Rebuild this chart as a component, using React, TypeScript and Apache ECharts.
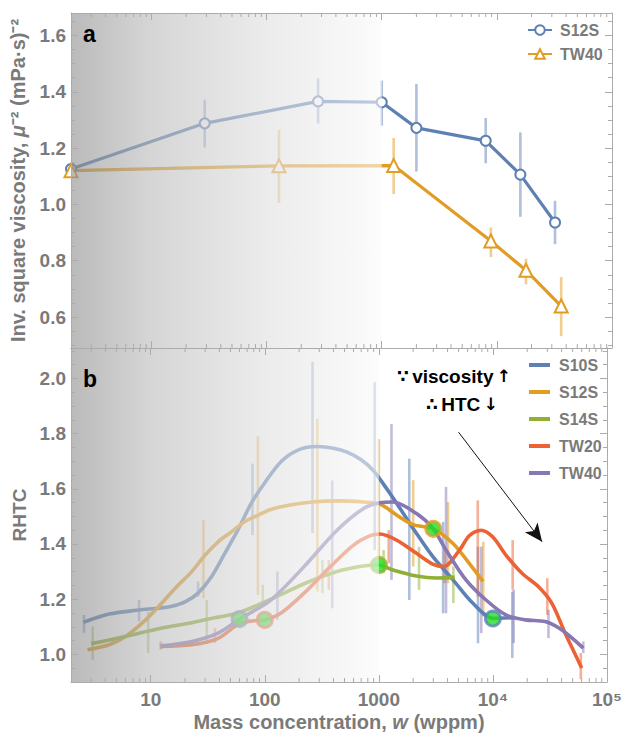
import React, { useEffect, useRef } from "react";
import * as echarts from "echarts";

// ---------- data ----------
const X_MIN = 2;
const X_MAX = 1e5;
const SHADE_RANGE = [2, 1000];

// panel a
const aS12S_x = [2, 29, 280, 1000, 2000, 8000, 16000, 32000];
const aS12S_y = [1.126, 1.288, 1.366, 1.363, 1.272, 1.226, 1.106, 0.936];
const aS12S_lo = [null, 1.202, 1.287, 1.28, 1.117, 1.146, 0.956, 0.859];
const aS12S_hi = [null, 1.372, 1.448, 1.44, 1.428, 1.307, 1.256, 1.013];

const aTW40_x = [2, 128, 1270, 8870, 17900, 36200];
const aTW40_y = [1.12, 1.137, 1.138, 0.87, 0.766, 0.639];
const aTW40_lo = [null, 1.005, 1.037, 0.813, 0.716, 0.532];
const aTW40_hi = [null, 1.264, 1.236, 0.918, 0.807, 0.742];

// panel b fitted curves [w, RHTC]
const bS10S = [[2.57, 1.116], [4.3, 1.146], [7.9, 1.161], [11.7, 1.167], [15.3, 1.174], [20, 1.19], [26, 1.222], [34.2, 1.282], [44.6, 1.366], [58, 1.45], [76, 1.547], [100, 1.622], [140, 1.7], [200, 1.742], [289, 1.753], [400, 1.747], [527, 1.733], [700, 1.705], [900, 1.665], [1150, 1.605], [1435, 1.547], [2140, 1.438], [3000, 1.352], [4470, 1.27], [6650, 1.186], [10000, 1.131], [15300, 1.133]];
const bS12S = [[2.79, 1.017], [4.32, 1.035], [6.02, 1.065], [8.4, 1.113], [11.7, 1.173], [16.4, 1.24], [22.9, 1.3], [30, 1.36], [39, 1.408], [51, 1.444], [66, 1.48], [87, 1.504], [113, 1.525], [170, 1.542], [260, 1.552], [430, 1.556], [730, 1.552], [1020, 1.545], [1430, 1.505], [2000, 1.47], [3000, 1.455], [4470, 1.402], [6200, 1.33], [8200, 1.264]];
const bS14S = [[3.0, 1.039], [6.0, 1.065], [11.7, 1.093], [22.9, 1.115], [39, 1.135], [60, 1.152], [113, 1.2], [221, 1.256], [430, 1.3], [730, 1.32], [1000, 1.324], [1330, 1.306], [2140, 1.284], [3190, 1.277], [4620, 1.279]];
const bTW20 = [[12.2, 1.029], [23, 1.035], [39, 1.058], [60, 1.112], [80, 1.122], [100, 1.125], [138, 1.149], [221, 1.222], [376, 1.318], [600, 1.396], [840, 1.43], [1020, 1.436], [1430, 1.414], [2140, 1.366], [3000, 1.326], [3700, 1.318], [5100, 1.378], [6200, 1.43], [7860, 1.45], [9940, 1.426], [13000, 1.36], [18000, 1.294], [25100, 1.245], [32800, 1.186], [43000, 1.077], [52000, 1.005], [60000, 0.951]];
const bTW40 = [[12.6, 1.031], [23, 1.047], [39, 1.077], [60, 1.128], [113, 1.197], [221, 1.318], [430, 1.45], [730, 1.528], [1020, 1.549], [1330, 1.552], [2140, 1.51], [3000, 1.455], [3880, 1.378], [5800, 1.27], [8700, 1.197], [13000, 1.143], [19300, 1.125], [28700, 1.119], [40000, 1.089], [62000, 1.023]];

// panel b error bars [w, low, high]
const eS10S = [[2.6, 1.078, 1.143], [7.9, 1.119, 1.197], [26, 1.209, 1.264], [78, 1.432, 1.691], [262, 1.44, 2.06], [920, 1.378, 1.986], [1850, 1.197, 1.709], [3660, 1.149, 1.48], [7400, 1.04, 1.39], [14800, 0.987, 1.227]];
const eS12S = [[29, 1.204, 1.486], [87, 1.215, 1.79], [289, 1.228, 1.853], [1000, 1.318, 1.78], [2000, 1.318, 1.631], [4040, 1.258, 1.552], [8230, 1.137, 1.408]];
const eS14S = [[3.1, 0.98, 1.101], [9.5, 1.005, 1.155], [31, 1.047, 1.197], [96, 1.173, 1.252], [320, 1.222, 1.342], [1100, 1.294, 1.378], [2250, 1.234, 1.39], [4500, 1.186, 1.318]];
const eTW20 = [[12.2, 1.017, 1.047], [36.6, 1.041, 1.095], [364, 1.234, 1.342], [1220, 1.33, 1.45], [3770, 1.258, 1.378], [7370, 1.209, 1.558], [14900, 1.234, 1.414], [30000, 1.143, 1.276], [59000, 0.91, 1.005]];
const eTW40 = [[12.4, 1.02, 1.04], [129, 1.125, 1.3], [390, 1.167, 1.63], [1290, 1.27, 1.835], [3880, 1.149, 1.607], [7900, 1.077, 1.39], [15200, 1.041, 1.234], [30700, 1.059, 1.161], [62000, 1.005, 1.047]];

// highlighted (critical) points
const hlNames = ["S10S", "S12S", "S14S", "TW20", "TW40"];
const hlX = [10000, 3000, 1000, 100, 60];
const hlY = [1.13, 1.455, 1.324, 1.125, 1.128];

// annotation arrow in data coords
const arrowFrom = [5000, 1.805];
const arrowTo = [27000, 1.408];

const minorMantissas = [2, 3, 4, 5, 6, 7, 8, 9];
const decades = [1, 10, 100, 1000, 10000];

// ---------- styles ----------
const COLORS: Record<string, string> = {
  S10S: "#5E81B5",
  S12S: "#E19C24",
  S14S: "#8FB032",
  TW20: "#EB6235",
  TW40: "#8778B3",
};
const FRAME = "#ababab";
const LABEL = "#7a7a7a";
const FONT = "Liberation Sans, Arial, Helvetica, sans-serif";

export default function App() {
  const ref = useRef<HTMLDivElement>(null);

  useEffect(() => {
    if (!ref.current) return;
    const chart = echarts.init(ref.current, null, { renderer: "svg" });

    const minorTicks: number[][] = [];
    decades.forEach((d) =>
      minorMantissas.forEach((m) => {
        const v = m * d;
        if (v > X_MIN && v < X_MAX) minorTicks.push([v, 1.2]);
      })
    );

    const nameStyle = (size: number) => ({
      fontSize: size,
      fontWeight: "bold",
      color: LABEL,
      fontFamily: FONT,
      rich: { i: { fontStyle: "italic", fontSize: size, fontWeight: "bold", color: LABEL, fontFamily: FONT } },
    });

    const xAx = (gridIndex: number, position: string, labels: boolean, name?: string) => ({
      type: "log",
      logBase: 10,
      gridIndex,
      position,
      min: X_MIN,
      max: X_MAX,
      z: 10,
      name: name || "",
      nameLocation: "middle",
      nameGap: 30,
      nameTextStyle: nameStyle(20),
      axisLine: { show: true, onZero: false, lineStyle: { color: FRAME, width: 1 } },
      axisTick: { show: true, inside: true, length: 7, lineStyle: { color: FRAME } },
      splitLine: { show: false },
      axisLabel: {
        show: labels,
        fontSize: 19,
        fontWeight: "bold",
        color: LABEL,
        fontFamily: FONT,
        margin: 8,
        formatter: (v: number) => {
          const e = Math.log10(v);
          if (Math.abs(e - Math.round(e)) > 1e-6) return "";
          const n = Math.round(e);
          if (n <= 3) return String(Math.round(v));
          return "10" + (n === 4 ? "\u2074" : "\u2075");
        },
      },
    });

    const yAx = (gridIndex: number, position: string, labels: boolean, min: number, max: number, name?: string, nameGap?: number, nameSize?: number) => ({
      type: "value",
      gridIndex,
      position,
      min,
      max,
      splitNumber: 6,
      z: 10,
      name: name || "",
      nameLocation: "middle",
      nameGap: nameGap || 40,
      nameTextStyle: nameStyle(nameSize || 20),
      axisLine: { show: true, onZero: false, lineStyle: { color: FRAME, width: 1 } },
      axisTick: { show: true, inside: true, length: 7, lineStyle: { color: FRAME } },
      minorTick: { show: true, splitNumber: 4, length: 4, lineStyle: { color: FRAME } },
      splitLine: { show: false },
      minorSplitLine: { show: false },
      axisLabel: {
        show: labels,
        fontSize: 19,
        fontWeight: "bold",
        color: LABEL,
        fontFamily: FONT,
        margin: 5,
        formatter: (v: number) => (Math.abs(v * 5 - Math.round(v * 5)) < 1e-6 ? v.toFixed(1) : ""),
      },
    });

    const overlay = (xi: number, yi: number, yMid: number) => ({
      type: "custom",
      xAxisIndex: xi,
      yAxisIndex: yi,
      z: 5,
      silent: true,
      clip: true,
      data: [[SHADE_RANGE[0], SHADE_RANGE[1], yMid]],
      encode: { x: [0, 1], y: 2 },
      renderItem: (params: any, api: any) => {
        const cs = params.coordSys;
        const x0 = api.coord([api.value(0), api.value(2)])[0];
        const x1 = api.coord([api.value(1), api.value(2)])[0];
        return {
          type: "rect",
          shape: { x: x0, y: cs.y, width: x1 - x0, height: cs.height },
          style: {
            fill: new echarts.graphic.LinearGradient(0, 0, 1, 0, [
              { offset: 0, color: "rgba(140,140,140,0.6)" },
              { offset: 0.25, color: "rgba(185,185,185,0.6)" },
              { offset: 0.6, color: "rgba(220,220,220,0.6)" },
              { offset: 1, color: "rgba(250,250,250,0.6)" },
            ]),
          },
        };
      },
    });

    const ticks = (xi: number, yi: number, yMid: number) => ({
      type: "custom",
      xAxisIndex: xi,
      yAxisIndex: yi,
      z: 11,
      silent: true,
      data: minorTicks.map((t) => [t[0], yMid]),
      encode: { x: 0, y: 1 },
      renderItem: (params: any, api: any) => {
        const cs = params.coordSys;
        const px = api.coord([api.value(0), api.value(1)])[0];
        const st = { stroke: FRAME, lineWidth: 1 };
        return {
          type: "group",
          children: [
            { type: "line", shape: { x1: px, y1: cs.y + cs.height, x2: px, y2: cs.y + cs.height - 4 }, style: st },
            { type: "line", shape: { x1: px, y1: cs.y, x2: px, y2: cs.y + 4 }, style: st },
          ],
        };
      },
    });

    const errSeries = (name: string, rows: (number | null)[][], color: string, xi: number, yi: number) => ({
      type: "custom",
      name: name + " err",
      xAxisIndex: xi,
      yAxisIndex: yi,
      z: 2,
      silent: true,
      data: rows.filter((r) => r[1] != null),
      encode: { x: 0, y: [1, 2] },
      renderItem: (params: any, api: any) => {
        const x = api.value(0);
        const lo = api.coord([x, api.value(1)]);
        const hi = api.coord([x, api.value(2)]);
        return {
          type: "line",
          shape: { x1: lo[0], y1: lo[1], x2: hi[0], y2: hi[1] },
          style: { stroke: color, lineWidth: 2.6, opacity: 0.5 },
        };
      },
    });

    const zip = (xs: number[], ys: number[]) => xs.map((x, i) => [x, ys[i]]);
    const zipErr = (xs: number[], lo: (number | null)[], hi: (number | null)[]) => xs.map((x, i) => [x, lo[i], hi[i]]);

    const bCurves: [string, number[][], number[][]][] = [
      ["S10S", bS10S, eS10S],
      ["S12S", bS12S, eS12S],
      ["S14S", bS14S, eS14S],
      ["TW20", bTW20, eTW20],
      ["TW40", bTW40, eTW40],
    ];

    const series: any[] = [
      overlay(0, 0, 1.0),
      overlay(2, 2, 1.5),
      ticks(0, 0, 1.0),
      ticks(2, 2, 1.5),
      errSeries("S12S a", zipErr(aS12S_x, aS12S_lo, aS12S_hi), COLORS.S10S, 0, 0),
      errSeries("TW40 a", zipErr(aTW40_x, aTW40_lo, aTW40_hi), COLORS.S12S, 0, 0),
      {
        type: "line",
        name: "S12S ",
        xAxisIndex: 0,
        yAxisIndex: 0,
        z: 3,
        data: zip(aS12S_x, aS12S_y),
        symbol: "emptyCircle",
        symbolSize: 10,
        lineStyle: { color: COLORS.S10S, width: 3.2 },
        itemStyle: { color: COLORS.S10S, borderWidth: 2 },
      },
      {
        type: "line",
        name: "TW40 ",
        xAxisIndex: 0,
        yAxisIndex: 0,
        z: 3,
        data: zip(aTW40_x, aTW40_y),
        symbol: "emptyTriangle",
        symbolSize: 13,
        lineStyle: { color: COLORS.S12S, width: 3.2 },
        itemStyle: { color: COLORS.S12S, borderWidth: 2 },
      },
    ];

    bCurves.forEach(([name, , err]) => {
      series.push(errSeries(name, err, COLORS[name], 2, 2));
    });
    bCurves.forEach(([name, curve]) => {
      series.push({
        type: "line",
        name,
        xAxisIndex: 2,
        yAxisIndex: 2,
        z: 3,
        data: curve,
        smooth: 0.3,
        showSymbol: false,
        symbol: "none",
        lineStyle: { color: COLORS[name], width: 3.6 },
        itemStyle: { color: COLORS[name] },
      });
    });

    series.push({
      type: "scatter",
      name: "critical",
      xAxisIndex: 2,
      yAxisIndex: 2,
      z: 4,
      symbolSize: 15,
      data: hlX.map((x, i) => ({
        value: [x, hlY[i]],
        itemStyle: { color: "#1fe01f", borderColor: COLORS[hlNames[i]], borderWidth: 3 },
      })),
    });

    series.push({
      type: "line",
      name: "arrow",
      xAxisIndex: 2,
      yAxisIndex: 2,
      z: 20,
      data: [],
      markLine: {
        silent: true,
        symbol: ["none", "arrow"],
        symbolSize: [12, 18],
        label: { show: false },
        lineStyle: { color: "#111", width: 1, type: "solid" },
        data: [[{ coord: arrowFrom }, { coord: arrowTo }]],
      },
    });

    const annoRich = {
      t: { font: `bold 19px ${FONT}`, fill: "#000" },
      a: { font: "bold 17px DejaVu Sans, sans-serif", fill: "#000" },
    };

    const option: any = {
      animation: false,
      backgroundColor: "#ffffff",
      textStyle: { fontFamily: FONT },
      grid: [
        { left: 71, right: 13, top: 13, height: 335 },
        { left: 71, right: 13, top: 348, height: 334 },
      ],
      xAxis: [
        xAx(0, "bottom", false),
        xAx(0, "top", false),
        xAx(1, "bottom", true, "Mass concentration, {i|w} (wppm)"),
        xAx(1, "top", false),
      ],
      yAxis: [
        yAx(0, "left", true, 0.49, 1.68, "Inv. square viscosity, {i|\u03bc}\u207b\u00b2 (mPa\u00b7s)\u207b\u00b2", 43, 20),
        yAx(0, "right", false, 0.49, 1.68),
        yAx(1, "left", true, 0.9, 2.11, "RHTC", 38, 19),
        yAx(1, "right", false, 0.9, 2.11),
      ],
      legend: [
        {
          orient: "vertical",
          left: 527,
          top: 22,
          padding: 0,
          itemWidth: 24,
          itemHeight: 12,
          itemGap: 8,
          data: ["S12S ", "TW40 "],
          textStyle: { fontSize: 16, fontWeight: "bold", color: LABEL, fontFamily: FONT, padding: [0, 0, 0, 3] },
          selectedMode: false,
        },
        {
          orient: "vertical",
          left: 529,
          top: 357,
          padding: 0,
          icon: "rect",
          itemWidth: 21,
          itemHeight: 4,
          itemGap: 11,
          data: ["S10S", "S12S", "S14S", "TW20", "TW40"],
          textStyle: { fontSize: 16, fontWeight: "bold", color: LABEL, fontFamily: FONT, padding: [0, 0, 0, 4] },
          selectedMode: false,
        },
      ],
      graphic: [
        { type: "text", x: 83, y: 34, z: 30, style: { text: "a", font: `bold 23px ${FONT}`, fill: "#000", verticalAlign: "middle" } },
        { type: "text", x: 83, y: 379, z: 30, style: { text: "b", font: `bold 23px ${FONT}`, fill: "#000", verticalAlign: "middle" } },
        {
          type: "text",
          x: 454,
          y: 376,
          z: 30,
          style: { text: "{a|\u2235} {t|viscosity} {a|\u2191}", rich: annoRich, align: "center", verticalAlign: "middle" },
        },
        {
          type: "text",
          x: 462,
          y: 404,
          z: 30,
          style: { text: "{a|\u2234} {t|HTC} {a|\u2193}", rich: annoRich, align: "center", verticalAlign: "middle" },
        },
      ],
      series,
    };

    chart.setOption(option);
    return () => chart.dispose();
  }, []);

  return <div ref={ref} style={{ position: "fixed", left: 0, top: 0, width: 625, height: 741 }} />;
}
